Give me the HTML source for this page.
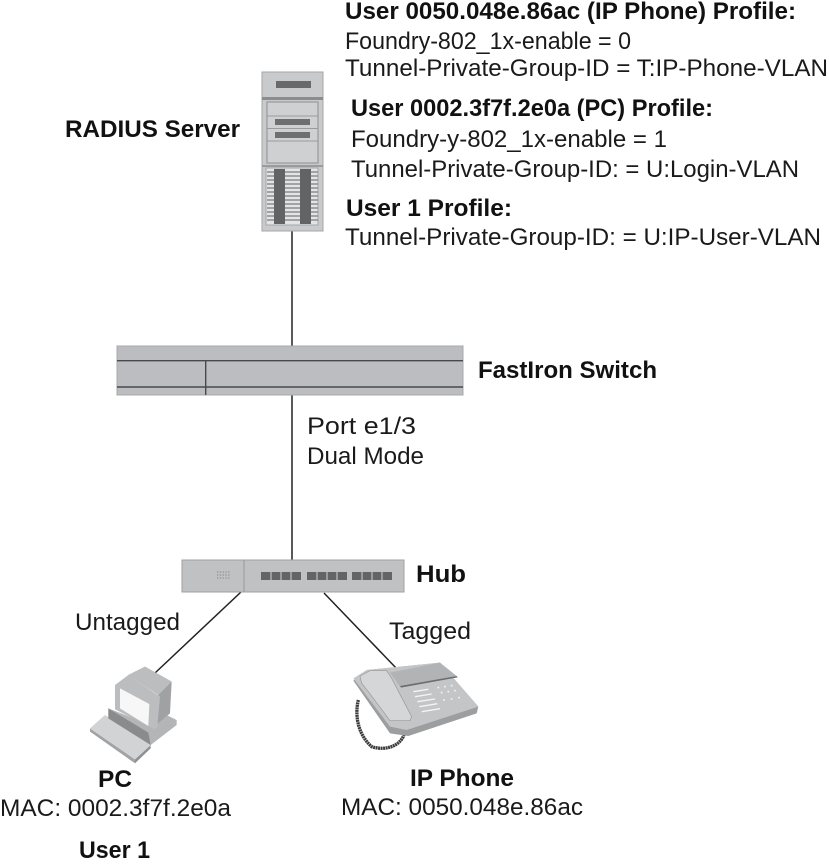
<!DOCTYPE html>
<html><head><meta charset="utf-8"><style>
html,body{margin:0;padding:0;background:#fff}
svg{display:block}
text{font-family:"Liberation Sans",Arial,sans-serif;font-size:24px;fill:#1a1a1a}
.b{font-weight:bold;fill:#111}
</style></head><body>
<svg width="829" height="865" viewBox="0 0 829 865" xmlns="http://www.w3.org/2000/svg">
<!-- connectors -->
<g stroke="#222" stroke-width="1.5" fill="none">
<line x1="292" y1="230" x2="292" y2="347"/>
<line x1="292" y1="395" x2="292" y2="567"/>
<line x1="241" y1="592" x2="155" y2="673"/>
<line x1="324" y1="593" x2="397" y2="669"/>
</g>
<!-- server -->
<rect x="262" y="72" width="61" height="159" fill="#c9cacc" stroke="#a5a6a8"/>
<rect x="262" y="97" width="61" height="3" fill="#8b8c8e"/>
<rect x="276" y="81" width="35" height="7" fill="#68696b"/>
<rect x="262" y="165" width="61" height="2" fill="#9a9b9d"/>
<rect x="267" y="102" width="51" height="61" fill="#cfd0d2" stroke="#8e8f91"/>
<g stroke="#9a9b9d"><line x1="267" y1="116" x2="318" y2="116"/><line x1="267" y1="128.5" x2="318" y2="128.5"/><line x1="267" y1="141" x2="318" y2="141"/></g>
<rect x="275" y="119" width="35" height="6" fill="#6e6f71"/>
<rect x="275" y="132" width="35" height="6" fill="#6e6f71"/>
<rect x="266" y="168" width="52" height="57" fill="#e4e4e5" stroke="#a5a6a8"/>
<g stroke="#8c8d8f" stroke-width="1.5">
<line x1="267" y1="172" x2="318" y2="172"/><line x1="267" y1="176" x2="318" y2="176"/><line x1="267" y1="180" x2="318" y2="180"/><line x1="267" y1="184" x2="318" y2="184"/><line x1="267" y1="188" x2="318" y2="188"/><line x1="267" y1="192" x2="318" y2="192"/><line x1="267" y1="196" x2="318" y2="196"/><line x1="267" y1="200" x2="318" y2="200"/><line x1="267" y1="204" x2="318" y2="204"/><line x1="267" y1="208" x2="318" y2="208"/><line x1="267" y1="212" x2="318" y2="212"/><line x1="267" y1="216" x2="318" y2="216"/><line x1="267" y1="220" x2="318" y2="220"/>
</g>
<rect x="274" y="169" width="11" height="55" fill="#626365"/>
<rect x="300" y="169" width="11" height="55" fill="#626365"/>
<!-- switch -->
<rect x="117" y="346" width="346" height="49" fill="#bcbdc0" stroke="#a8a9ab"/>
<g stroke="#48494b" stroke-width="1.4">
<line x1="117" y1="360.7" x2="463" y2="360.7"/>
<line x1="117" y1="387" x2="463" y2="387"/>
<line x1="205.7" y1="361" x2="205.7" y2="395"/>
</g>
<!-- hub -->
<rect x="182" y="560" width="222" height="32" fill="#c0c1c3" stroke="#a0a1a3"/>
<line x1="244" y1="560" x2="244" y2="592" stroke="#98999b"/>
<g fill="#636466">
<rect x="261" y="572" width="40" height="8"/><rect x="307" y="572" width="40" height="8"/><rect x="352" y="572" width="40" height="8"/>
</g>
<g stroke="#c0c1c3" stroke-width="1.2">
<line x1="271" y1="572" x2="271" y2="580"/><line x1="281" y1="572" x2="281" y2="580"/><line x1="291" y1="572" x2="291" y2="580"/>
<line x1="317" y1="572" x2="317" y2="580"/><line x1="327" y1="572" x2="327" y2="580"/><line x1="337" y1="572" x2="337" y2="580"/>
<line x1="362" y1="572" x2="362" y2="580"/><line x1="372" y1="572" x2="372" y2="580"/><line x1="382" y1="572" x2="382" y2="580"/>
</g>
<g stroke="#8e8f91" stroke-width="1.2" stroke-dasharray="1.3 1.5">
<line x1="217" y1="572" x2="231" y2="572"/><line x1="217" y1="575" x2="231" y2="575"/><line x1="217" y1="578" x2="231" y2="578"/>
</g>
<!-- PC -->
<g transform="translate(80,660) scale(0.3333)">
<polygon points="30,205 165,298 165,310 30,215" fill="#a2a3a5"/>
<polygon points="165,298 212,255 212,265 165,310" fill="#8f9092"/>
<polygon points="30,205 75,165 212,255 165,298" fill="#d2d3d5"/>
<polygon points="85,145 85,175 212,255 290,195 290,180 250,160 200,190" fill="#b4b5b7"/>
<polygon points="85,145 205,218 212,255 85,175" fill="#8a8b8d"/>
<polygon points="145,45 195,20 275,65 270,160 228,195 235,105" fill="#a0a1a3"/>
<polygon points="145,45 195,20 275,65 235,105" fill="#bcbdbf"/>
<polygon points="105,75 145,45 240,110 232,200 225,208 105,148" fill="#bcbdbf"/>
<polygon points="120,85 208,132 205,198 120,145" fill="#f7f7f8"/>
</g>
<!-- Phone -->
<g transform="translate(340,650) scale(0.3333)">
<path d="M55,150 C45,190 50,250 95,290 C140,305 195,285 195,235" fill="none" stroke="#3c3d3f" stroke-width="10" stroke-dasharray="6 1.5"/>
<polygon points="40,92 80,60 300,38 415,170 410,190 205,258 150,250" fill="#9d9ea0"/>
<polygon points="40,85 80,60 300,38 415,170 200,240 150,230" fill="#c4c5c7"/>
<polygon points="150,68 300,38 350,78 180,110" fill="#b2b3b5"/>
<polygon points="180,108 350,78 353,82 183,113" fill="#6d6e70"/>
<polygon points="60,78 90,62 140,62 155,85 215,200 210,212 150,212 130,185 85,125 65,100" fill="#d5d6d8" stroke="#97989a" stroke-width="2"/>
<g stroke="#f4f4f5" stroke-width="4">
<line x1="220" y1="125" x2="265" y2="118"/><line x1="225" y1="140" x2="275" y2="132"/><line x1="232" y1="155" x2="285" y2="147"/><line x1="238" y1="170" x2="292" y2="161"/><line x1="245" y1="185" x2="300" y2="176"/>
</g>
<g fill="#eeeeef">
<circle cx="295" cy="113" r="3"/><circle cx="315" cy="110" r="3"/><circle cx="335" cy="107" r="3"/>
<circle cx="305" cy="128" r="3"/><circle cx="325" cy="125" r="3"/><circle cx="345" cy="122" r="3"/>
<circle cx="312" cy="150" r="3"/><circle cx="335" cy="147" r="3"/><circle cx="357" cy="143" r="3"/>
</g>
</g>
<!-- text -->
<text class="b" x="345" y="19" textLength="451" lengthAdjust="spacingAndGlyphs">User 0050.048e.86ac (IP Phone) Profile:</text>
<text x="345" y="49" textLength="286" lengthAdjust="spacingAndGlyphs">Foundry-802_1x-enable = 0</text>
<text x="345" y="76" textLength="483" lengthAdjust="spacingAndGlyphs">Tunnel-Private-Group-ID = T:IP-Phone-VLAN</text>
<text class="b" x="351" y="116" textLength="362" lengthAdjust="spacingAndGlyphs">User 0002.3f7f.2e0a (PC) Profile:</text>
<text x="351" y="147" textLength="316" lengthAdjust="spacingAndGlyphs">Foundry-y-802_1x-enable = 1</text>
<text x="351" y="177" textLength="448" lengthAdjust="spacingAndGlyphs">Tunnel-Private-Group-ID: = U:Login-VLAN</text>
<text class="b" x="346" y="216" textLength="166" lengthAdjust="spacingAndGlyphs">User 1 Profile:</text>
<text x="345" y="245" textLength="476" lengthAdjust="spacingAndGlyphs">Tunnel-Private-Group-ID: = U:IP-User-VLAN</text>
<text class="b" x="65" y="137" textLength="175" lengthAdjust="spacingAndGlyphs">RADIUS Server</text>
<text class="b" x="478" y="378" textLength="179" lengthAdjust="spacingAndGlyphs">FastIron Switch</text>
<text x="307" y="434" textLength="109" lengthAdjust="spacingAndGlyphs">Port e1/3</text>
<text x="307" y="464" textLength="117" lengthAdjust="spacingAndGlyphs">Dual Mode</text>
<text class="b" x="416" y="582" textLength="50" lengthAdjust="spacingAndGlyphs">Hub</text>
<text x="75" y="630" textLength="105" lengthAdjust="spacingAndGlyphs">Untagged</text>
<text x="389" y="639" textLength="82" lengthAdjust="spacingAndGlyphs">Tagged</text>
<text class="b" x="98" y="787" textLength="34" lengthAdjust="spacingAndGlyphs">PC</text>
<text x="0" y="816" textLength="231" lengthAdjust="spacingAndGlyphs">MAC: 0002.3f7f.2e0a</text>
<text class="b" x="79" y="858" textLength="71" lengthAdjust="spacingAndGlyphs">User 1</text>
<text class="b" x="410" y="786" textLength="104" lengthAdjust="spacingAndGlyphs">IP Phone</text>
<text x="341" y="815" textLength="242" lengthAdjust="spacingAndGlyphs">MAC: 0050.048e.86ac</text>
</svg>
</body></html>
